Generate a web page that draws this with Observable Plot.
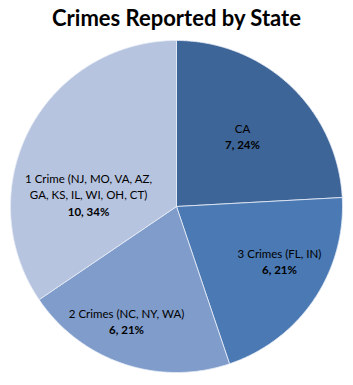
<!DOCTYPE html>
<html>
<head>
<meta charset="utf-8">
<script src="https://cdn.jsdelivr.net/npm/d3@7"></script>
<script src="https://cdn.jsdelivr.net/npm/@observablehq/plot@0.6"></script>
<style>
  html, body { margin: 0; padding: 0; background: #fff; }
  #wrap { width: 353px; height: 385px; position: relative; font-family: Lato, "Open Sans", sans-serif; }
  #title { height: 40px; line-height: 35px; text-align: center; font-weight: bold; font-size: 22px; color: #000; padding-left: 0; }
  svg { display: block; }
</style>
</head>
<body>
<div id="wrap">
  <div id="title">Crimes Reported by State</div>
  <div id="chart"></div>
</div>
<script>
// ---- data ----
const categories = ["CA", "3 Crimes (FL, IN)", "2 Crimes (NC, NY, WA)", "1 Crime (NJ, MO, VA, AZ,\nGA, KS, IL, WI, OH, CT)"];
const counts = [7, 6, 6, 10];
const colors = ["#3e6597", "#4a79b3", "#7f9ccb", "#b7c4df"];

// ---- layout (label placement: angle in degrees clockwise from 12 o'clock, radius fraction) ----
const labelAngle = [43.7, 118.5, 203.3, 271.6];
const labelRadius = [0.575, 0.706, 0.761, 0.53];
const lineStep = 16.5;

const total = d3.sum(counts);
const pie = d3.pie().sort(null).value(d => d)(counts);

// arc polygons in unit coordinates
const slices = [];
pie.forEach((p, i) => {
  const n = Math.max(2, Math.ceil((p.endAngle - p.startAngle) / (Math.PI / 360)));
  slices.push({i, x: 0, y: 0});
  for (let k = 0; k <= n; k++) {
    const a = p.startAngle + (p.endAngle - p.startAngle) * k / n;
    slices.push({i, x: Math.sin(a), y: Math.cos(a)});
  }
  slices.push({i, x: 0, y: 0});
});

// one row per text line
const textLines = [];
categories.forEach((c, i) => {
  const a = labelAngle[i] * Math.PI / 180, r = labelRadius[i];
  const x = r * Math.sin(a), y = r * Math.cos(a);
  const names = c.split("\n");
  names.forEach((t, j) => {
    textLines.push({x, y, text: t, bold: false, dy: -lineStep / 2 - (names.length - 1 - j) * lineStep});
  });
  textLines.push({x, y, text: `${counts[i]}, ${Math.round(counts[i] / total * 100)}%`, bold: true, dy: lineStep / 2});
});

const R = 166, cx = 176, cy = 166;
const marks = [
  Plot.line(slices, {x: "x", y: "y", z: "i", fill: d => colors[d.i], stroke: "#e8eef8", strokeWidth: 0.8, curve: "linear-closed"})
];
textLines.forEach(t => {
  marks.push(Plot.text([t], {x: "x", y: "y", text: "text", dy: t.dy, fontSize: 11.5, fontWeight: t.bold ? "bold" : "normal", fill: "#000"}));
});

const chart = Plot.plot({
  width: 353,
  height: 345,
  margin: 0,
  x: {domain: [-1, 1], range: [cx - R, cx + R], axis: null},
  y: {domain: [-1, 1], range: [cy + R, cy - R], axis: null},
  style: {fontFamily: "Lato, 'Open Sans', sans-serif", background: "#fff"},
  marks
});
document.getElementById("chart").appendChild(chart);
</script>
</body>
</html>
